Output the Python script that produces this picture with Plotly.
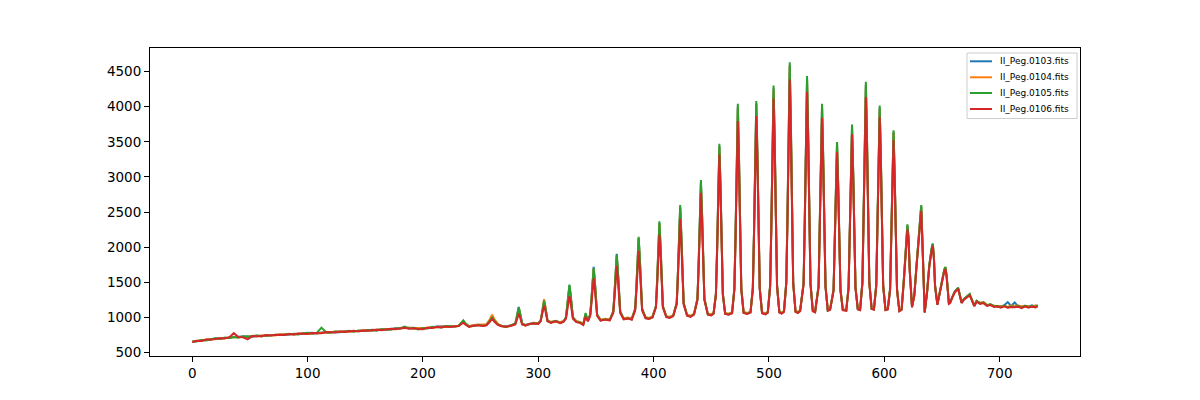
import plotly.graph_objects as go

# ---- data ----
pixel_x = [
    0, 4, 8, 12, 16, 20, 24, 28, 32, 36,
    40, 44, 48, 52, 56, 60, 64, 68, 72, 76,
    80, 84, 88, 92, 96, 100, 104, 108, 112, 116,
    120, 124, 128, 132, 136, 140, 144, 148, 152, 156,
    160, 164, 168, 172, 176, 180, 184, 188, 192, 196,
    200, 204, 208, 212, 216, 220, 224, 228, 231, 233,
    235, 237, 240, 244, 248, 252, 255, 258, 260, 262,
    265, 268, 272, 276, 280, 281, 282, 283, 284, 285,
    286, 289, 292, 296, 300, 302, 303, 304, 305, 306,
    307, 308, 311, 315, 319, 322, 324, 325, 326, 327,
    328, 329, 330, 333, 336, 339, 341, 343, 345, 346,
    347, 348, 349, 350, 351, 354, 358, 362, 365, 366,
    367, 368, 369, 370, 371, 374, 378, 381, 384, 385,
    386, 387, 388, 389, 390, 393, 396, 399, 402, 403,
    404, 405, 406, 407, 408, 411, 414, 417, 420, 421,
    422, 423, 424, 425, 426, 429, 432, 435, 438, 439,
    440, 441, 442, 443, 444, 447, 450, 452, 454, 455,
    456, 457, 458, 459, 460, 462, 465, 468, 470, 471,
    472, 473, 474, 475, 476, 478, 481, 484, 486, 487,
    488, 489, 490, 491, 492, 494, 497, 499, 501, 502,
    503, 504, 505, 506, 507, 509, 511, 513, 515, 516,
    517, 518, 519, 520, 521, 523, 525, 527, 530, 531,
    532, 533, 534, 535, 536, 538, 540, 543, 544, 545,
    546, 547, 548, 549, 551, 553, 556, 557, 558, 559,
    560, 561, 562, 564, 567, 569, 570, 571, 572, 573,
    574, 575, 577, 579, 581, 582, 583, 584, 585, 586,
    587, 589, 591, 593, 594, 595, 596, 597, 598, 599,
    601, 603, 605, 606, 607, 608, 609, 610, 611, 613,
    615, 617, 618, 620, 621, 622, 624, 626, 628, 630,
    632, 633, 634, 635, 637, 639, 641, 642, 643, 644,
    646, 648, 650, 652, 653, 654, 656, 657, 659, 661,
    664, 666, 667, 669, 671, 674, 676, 678, 680, 683,
    686, 689, 692, 695, 698, 701, 704, 707, 710, 713,
    716, 719, 722, 725, 728, 731, 733,
]

flux_0103 = [
    657, 661, 677, 683, 683, 701, 702, 714, 710, 722,
    728, 725, 733, 726, 742, 742, 739, 752, 752, 751,
    763, 758, 771, 770, 766, 779, 784, 774, 788, 789,
    796, 794, 790, 807, 803, 809, 817, 814, 811, 826,
    824, 833, 827, 838, 847, 848, 852, 853, 854, 846,
    846, 853, 854, 871, 871, 872, 878, 878, 882, 915,
    945, 905, 875, 890, 898, 888, 895, 948, 1010, 950,
    902, 885, 872, 890, 912, 983, 1082, 1150, 1082, 983,
    912, 895, 908, 925, 920, 953, 1035, 1151, 1230, 1151,
    1035, 953, 935, 955, 930, 948, 1002, 1136, 1326, 1455,
    1326, 1136, 1002, 945, 935, 905, 1050, 955, 1042, 1243,
    1527, 1720, 1527, 1243, 1042, 965, 980, 970, 1087, 1328,
    1672, 1905, 1672, 1328, 1087, 985, 995, 980, 1122, 1420,
    1844, 2130, 1844, 1420, 1122, 1000, 990, 1010, 1161, 1511,
    2009, 2345, 2009, 1511, 1161, 1015, 1005, 1030, 1206, 1609,
    2183, 2570, 2183, 1609, 1206, 1035, 1020, 1050, 1266, 1754,
    2450, 2920, 2450, 1754, 1266, 1050, 1040, 1065, 1337, 1958,
    2843, 3440, 2843, 1958, 1337, 1060, 1050, 1070, 1413, 2177,
    3265, 4000, 3265, 2177, 1413, 1075, 1060, 1080, 1418, 2194,
    3299, 4045, 3299, 2194, 1418, 1070, 1055, 1080, 1453, 2282,
    3463, 4260, 3463, 2282, 1453, 1080, 1065, 1090, 1501, 2414,
    3713, 4590, 3713, 2414, 1501, 1090, 1075, 1100, 1487, 2348,
    3573, 4400, 3573, 2348, 1487, 1100, 1085, 1449, 2204, 3279,
    4005, 3279, 2204, 1449, 1105, 1120, 1393, 2007, 2880, 3470,
    2880, 2007, 1393, 1115, 1105, 1428, 2105, 3069, 3720, 3069,
    2105, 1428, 1125, 1115, 1503, 2334, 3516, 4315, 3516, 2334,
    1503, 1130, 1120, 1459, 2206, 3268, 3985, 3268, 2206, 1459,
    1115, 1125, 1405, 2065, 3005, 3640, 3005, 2065, 1405, 1100,
    1120, 1555, 1850, 2310, 2140, 1690, 1150, 1320, 1760, 2200,
    2585, 2100, 1395, 1075, 1355, 1745, 1975, 2045, 1855, 1455,
    1185, 1355, 1545, 1680, 1715, 1595, 1200, 1210, 1290, 1365,
    1420, 1295, 1210, 1260, 1290, 1330, 1245, 1165, 1235, 1200,
    1210, 1170, 1185, 1165, 1160, 1155, 1175, 1220, 1165, 1215,
    1160, 1150, 1165, 1155, 1175, 1150, 1180,
]

flux_0104 = [
    653, 671, 669, 687, 691, 691, 705, 707, 720, 715,
    718, 730, 722, 739, 731, 746, 744, 750, 745, 762,
    759, 769, 758, 769, 777, 769, 777, 786, 785, 782,
    793, 801, 797, 804, 797, 807, 809, 819, 819, 812,
    830, 827, 837, 830, 841, 850, 850, 857, 842, 850,
    843, 858, 862, 857, 875, 866, 873, 881, 880, 920,
    950, 910, 878, 895, 900, 895, 905, 975, 1040, 975,
    910, 885, 870, 888, 910, 975, 1067, 1130, 1067, 975,
    910, 895, 910, 922, 918, 956, 1046, 1174, 1260, 1174,
    1046, 956, 940, 948, 935, 950, 1000, 1130, 1315, 1440,
    1315, 1130, 1000, 950, 938, 910, 1040, 960, 1039, 1231,
    1505, 1690, 1505, 1231, 1039, 970, 982, 972, 1082, 1315,
    1646, 1870, 1646, 1315, 1082, 990, 1000, 985, 1121, 1414,
    1832, 2115, 1832, 1414, 1121, 1005, 995, 1015, 1160, 1505,
    1998, 2330, 1998, 1505, 1160, 1020, 1010, 1035, 1204, 1603,
    2171, 2555, 2171, 1603, 1204, 1040, 1025, 1055, 1264, 1749,
    2439, 2905, 2439, 1749, 1264, 1055, 1045, 1070, 1334, 1951,
    2828, 3420, 2828, 1951, 1334, 1065, 1055, 1075, 1411, 2172,
    3254, 3985, 3254, 2172, 1411, 1080, 1065, 1085, 1416, 2187,
    3284, 4025, 3284, 2187, 1416, 1075, 1060, 1085, 1451, 2277,
    3451, 4245, 3451, 2277, 1451, 1085, 1070, 1095, 1499, 2406,
    3698, 4570, 3698, 2406, 1499, 1095, 1080, 1105, 1485, 2340,
    3558, 4380, 3558, 2340, 1485, 1105, 1090, 1447, 2198, 3268,
    3990, 3268, 2198, 1447, 1110, 1125, 1392, 2003, 2873, 3460,
    2873, 2003, 1392, 1120, 1110, 1425, 2097, 3054, 3700, 3054,
    2097, 1425, 1130, 1120, 1501, 2327, 3501, 4295, 3501, 2327,
    1501, 1135, 1125, 1458, 2200, 3256, 3970, 3256, 2200, 1458,
    1120, 1130, 1404, 2061, 2998, 3630, 2998, 2061, 1404, 1105,
    1125, 1550, 1845, 2300, 2130, 1685, 1160, 1315, 1755, 2190,
    2575, 2095, 1390, 1080, 1350, 1740, 1970, 2040, 1850, 1450,
    1190, 1350, 1540, 1675, 1710, 1590, 1210, 1215, 1295, 1360,
    1415, 1305, 1220, 1265, 1285, 1325, 1255, 1175, 1230, 1210,
    1220, 1180, 1175, 1170, 1150, 1165, 1160, 1150, 1175, 1160,
    1170, 1160, 1155, 1165, 1150, 1175, 1165,
]

flux_0105 = [
    660, 662, 680, 674, 692, 705, 695, 712, 708, 724,
    714, 732, 724, 735, 746, 731, 746, 743, 757, 756,
    752, 767, 765, 758, 775, 782, 771, 783, 857, 790,
    783, 800, 798, 794, 811, 799, 813, 807, 823, 819,
    814, 835, 833, 827, 845, 844, 871, 845, 851, 832,
    848, 845, 868, 866, 860, 880, 875, 869, 885, 925,
    960, 915, 872, 880, 895, 885, 892, 955, 1000, 955,
    900, 880, 865, 885, 911, 979, 1075, 1140, 1075, 979,
    911, 890, 905, 920, 915, 954, 1039, 1159, 1240, 1159,
    1039, 954, 930, 950, 925, 945, 1004, 1141, 1337, 1470,
    1337, 1141, 1004, 940, 930, 900, 1065, 950, 1041, 1237,
    1516, 1705, 1516, 1237, 1041, 960, 975, 965, 1085, 1323,
    1661, 1890, 1661, 1323, 1085, 980, 990, 975, 1125, 1428,
    1859, 2150, 1859, 1428, 1125, 995, 985, 1005, 1164, 1521,
    2028, 2370, 2028, 1521, 1164, 1010, 1000, 1025, 1210, 1620,
    2205, 2600, 2205, 1620, 1210, 1030, 1015, 1045, 1270, 1768,
    2476, 2955, 2476, 1768, 1270, 1045, 1035, 1060, 1340, 1970,
    2865, 3470, 2865, 1970, 1340, 1055, 1045, 1065, 1418, 2192,
    3295, 4040, 3295, 2192, 1418, 1070, 1055, 1075, 1422, 2208,
    3325, 4080, 3325, 2208, 1422, 1065, 1050, 1075, 1458, 2297,
    3493, 4300, 3493, 2297, 1458, 1075, 1060, 1085, 1506, 2429,
    3743, 4630, 3743, 2429, 1506, 1085, 1070, 1095, 1491, 2361,
    3599, 4435, 3599, 2361, 1491, 1095, 1080, 1453, 2217, 3305,
    4040, 3305, 2217, 1453, 1100, 1115, 1396, 2016, 2899, 3495,
    2899, 2016, 1396, 1110, 1100, 1431, 2114, 3088, 3745, 3088,
    2114, 1431, 1120, 1110, 1508, 2349, 3546, 4355, 3546, 2349,
    1508, 1125, 1115, 1463, 2217, 3290, 4015, 3290, 2217, 1463,
    1110, 1120, 1408, 2075, 3024, 3665, 3024, 2075, 1408, 1095,
    1115, 1560, 1860, 2325, 2150, 1700, 1150, 1320, 1765, 2210,
    2600, 2110, 1400, 1075, 1360, 1750, 1985, 2055, 1860, 1460,
    1185, 1360, 1550, 1685, 1720, 1600, 1205, 1215, 1295, 1370,
    1425, 1300, 1215, 1265, 1295, 1335, 1250, 1170, 1240, 1205,
    1215, 1175, 1190, 1160, 1165, 1150, 1170, 1145, 1160, 1150,
    1165, 1140, 1170, 1150, 1165, 1155, 1170,
]

flux_0106 = [
    652, 669, 666, 688, 686, 698, 707, 701, 717, 778,
    724, 718, 690, 736, 737, 733, 751, 743, 755, 755,
    753, 766, 760, 774, 771, 766, 780, 781, 777, 793,
    792, 786, 802, 796, 806, 812, 803, 816, 811, 821,
    826, 821, 835, 842, 832, 844, 856, 842, 849, 836,
    835, 856, 852, 868, 860, 874, 866, 876, 878, 905,
    925, 900, 868, 885, 890, 880, 890, 940, 985, 940,
    895, 875, 870, 880, 901, 946, 1011, 1055, 1011, 946,
    901, 885, 910, 915, 910, 946, 1012, 1106, 1170, 1106,
    1012, 946, 925, 945, 920, 940, 984, 1079, 1214, 1305,
    1214, 1079, 984, 935, 925, 895, 1010, 945, 1023, 1182,
    1407, 1560, 1407, 1182, 1023, 955, 970, 960, 1066, 1264,
    1545, 1735, 1545, 1264, 1066, 975, 985, 970, 1101, 1352,
    1709, 1950, 1709, 1352, 1101, 990, 980, 1000, 1142, 1450,
    1889, 2185, 1889, 1450, 1142, 1005, 995, 1020, 1186, 1544,
    2055, 2400, 2055, 1544, 1186, 1025, 1010, 1040, 1248, 1699,
    2341, 2775, 2341, 1699, 1248, 1040, 1030, 1055, 1322, 1913,
    2753, 3320, 2753, 1913, 1322, 1050, 1040, 1060, 1388, 2099,
    3111, 3795, 3111, 2099, 1388, 1065, 1050, 1070, 1397, 2126,
    3164, 3865, 3164, 2126, 1397, 1060, 1045, 1070, 1435, 2227,
    3354, 4115, 3354, 2227, 1435, 1070, 1055, 1080, 1477, 2336,
    3559, 4385, 3559, 2336, 1477, 1080, 1065, 1090, 1464, 2276,
    3430, 4210, 3430, 2276, 1464, 1090, 1075, 1429, 2141, 3155,
    3840, 3155, 2141, 1429, 1095, 1110, 1379, 1963, 2794, 3355,
    2794, 1963, 1379, 1105, 1095, 1414, 2061, 2983, 3605, 2983,
    2061, 1414, 1115, 1105, 1482, 2266, 3381, 4135, 3381, 2266,
    1482, 1120, 1110, 1444, 2156, 3170, 3855, 3170, 2156, 1444,
    1105, 1115, 1391, 2022, 2919, 3525, 2919, 2022, 1391, 1090,
    1110, 1530, 1820, 2255, 2090, 1660, 1145, 1310, 1740, 2150,
    2515, 2060, 1380, 1070, 1340, 1720, 1950, 2020, 1830, 1440,
    1180, 1340, 1530, 1660, 1690, 1580, 1195, 1205, 1285, 1355,
    1410, 1290, 1205, 1255, 1280, 1315, 1240, 1160, 1225, 1195,
    1205, 1165, 1180, 1150, 1160, 1140, 1160, 1140, 1150, 1145,
    1155, 1135, 1160, 1140, 1155, 1145, 1160,
]

series_names = ["II_Peg.0103.fits", "II_Peg.0104.fits", "II_Peg.0105.fits", "II_Peg.0106.fits"]
series_values = [flux_0103, flux_0104, flux_0105, flux_0106]
series_colors = ["#1f77b4", "#ff7f0e", "#2ca02c", "#d62728"]

x_tick_values = [0, 100, 200, 300, 400, 500, 600, 700]
y_tick_values = [500, 1000, 1500, 2000, 2500, 3000, 3500, 4000, 4500]

# ---- figure ----
fig = go.Figure()
for name, vals, col in zip(series_names, series_values, series_colors):
    n = min(len(pixel_x), len(vals))
    fig.add_trace(go.Scatter(
        x=pixel_x[:n], y=vals[:n], mode="lines", name=name,
        line=dict(color=col, width=2),
        showlegend=False,
    ))

axis_common = dict(
    showgrid=False, zeroline=False, showline=True, linecolor="black",
    linewidth=1, mirror=True, ticks="outside", ticklen=5, tickwidth=1,
    tickcolor="black", tickfont=dict(family="DejaVu Sans", size=13.5, color="black"),
)

# Legend drawn in the plot's paper coordinates (matplotlib-like compact box)
shapes = [dict(
    type="rect", xref="paper", yref="paper",
    x0=0.8785, x1=0.9968, y0=0.7711, y1=0.9838,
    line=dict(color="#cccccc", width=1), fillcolor="rgba(255,255,255,0.8)",
    layer="above",
)]
annotations = []
row_y = [0.9568, 0.9049, 0.8539, 0.8019]
for name, col, yy in zip(series_names, series_colors, row_y):
    shapes.append(dict(
        type="line", xref="paper", yref="paper",
        x0=0.8817, x1=0.9054, y0=yy, y1=yy,
        line=dict(color=col, width=2), layer="above",
    ))
    annotations.append(dict(
        xref="paper", yref="paper", x=0.9118, y=yy,
        xanchor="left", yanchor="middle", text=name, showarrow=False,
        font=dict(family="DejaVu Sans", size=9, color="black"),
    ))

fig.update_layout(
    width=1200, height=400,
    margin=dict(l=142, r=128, t=40, b=52),
    paper_bgcolor="white", plot_bgcolor="white",
    font=dict(family="DejaVu Sans", color="black"),
    showlegend=False,
    shapes=shapes, annotations=annotations,
    hovermode=False,
)
fig.update_xaxes(range=[-36.65, 769.65], tickvals=x_tick_values, **axis_common)
fig.update_yaxes(range=[453, 4834], tickvals=y_tick_values, **axis_common)

fig.write_html("out.html", config={"displayModeBar": False})
